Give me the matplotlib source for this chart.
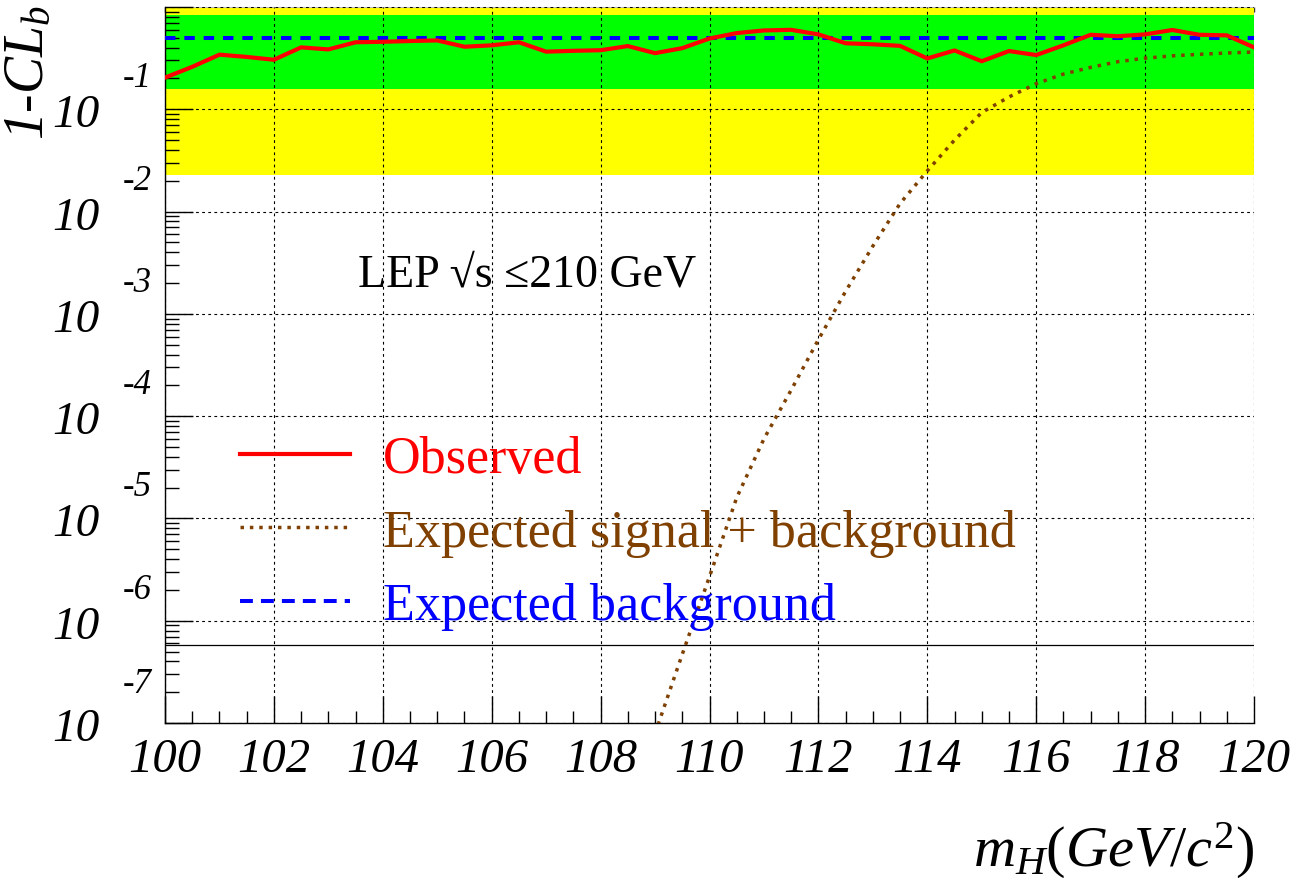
import numpy as np
import matplotlib
matplotlib.use("Agg")
import matplotlib.pyplot as plt
import matplotlib.transforms as mtransforms
from matplotlib.ticker import LogLocator, NullFormatter, MultipleLocator
from matplotlib.lines import Line2D

# ---------------- data ----------------
# Higgs mass hypotheses (GeV/c^2)
mass_obs = np.arange(100.0, 120.01, 0.5)
# observed 1-CL_b
obs_1mclb = [0.204, 0.260, 0.342, 0.325, 0.305, 0.403, 0.385, 0.452, 0.457, 0.465,
             0.471, 0.409, 0.422, 0.452, 0.366, 0.373, 0.378, 0.415, 0.354, 0.396,
             0.492, 0.556, 0.590, 0.598, 0.540, 0.442, 0.432, 0.417, 0.314, 0.376,
             0.295, 0.371, 0.339, 0.422, 0.535, 0.518, 0.540, 0.596, 0.535, 0.528,
             0.403]

# expected 1-CL_b for signal + background
mass_sb = [109.0, 109.5, 110.0, 110.5, 111.0, 111.5, 112.0, 112.5, 113.0, 113.5,
           114.0, 114.5, 115.0, 115.5, 116.0, 116.5, 117.0, 117.5, 118.0, 118.5,
           119.0, 119.5, 120.0]
exp_sb = [7.9e-8, 4.7e-7, 2.7e-6, 1.6e-5, 6.0e-5, 1.8e-4, 5.6e-4, 1.66e-3, 4.6e-3, 1.2e-2,
          2.5e-2, 5.0e-2, 9.3e-2, 0.132, 0.178, 0.221, 0.257, 0.292, 0.316, 0.333,
          0.345, 0.355, 0.363]

# expected 1-CL_b for background only
mass_b = [100.0, 120.0]
exp_b = [0.5, 0.5]

# 1 and 2 standard deviation bands around the background expectation
band1 = (0.1587, 0.8413)
band2 = (0.0228, 0.9772)
# 5 sigma discovery level
five_sigma = 5.73e-7

xtick_vals = np.arange(100, 121, 2)
ytick_exps = [-1, -2, -3, -4, -5, -6, -7]

# ---------------- styling ----------------
plt.rcParams["mathtext.fontset"] = "custom"
plt.rcParams["mathtext.it"] = "Liberation Serif:italic"
plt.rcParams["mathtext.rm"] = "Liberation Serif"
plt.rcParams["mathtext.default"] = "it"
SERIF = ["Liberation Serif", "DejaVu Serif"]

W, H = 1302, 879
fig = plt.figure(figsize=(W / 100, H / 100), dpi=100)
x0, x1, ytop, ybot = 165, 1254, 8, 724
ax = fig.add_axes([x0 / W, 1 - ybot / H, (x1 - x0) / W, (ybot - ytop) / H])

ax.set_xlim(100, 120)
ax.set_yscale("log")
ax.set_ylim(1e-7, 1)

# bands
ax.axhspan(band2[0], band2[1], color="#ffff00", lw=0, zorder=0.5)
ax.axhspan(band1[0], band1[1], color="#00ff00", lw=0, zorder=0.6)

# grid
ax.grid(True, which="major", color="black", linestyle=(0, (2.5, 3)), linewidth=0.8)

# curves
SB_STYLE = dict(color="#7f4000", lw=2.5, linestyle=(0, (1, 1.7)), dash_capstyle="butt")
B_STYLE = dict(color="#0000ff", lw=2.9, linestyle=(0, (2.6, 2.2)), dash_capstyle="butt")
OBS_STYLE = dict(color="#ff0000", lw=3.0)

ax.axhline(five_sigma, color="black", lw=0.9, zorder=2)
ax.plot(mass_sb, exp_sb, zorder=3, **SB_STYLE)
ax.plot(mass_b, exp_b, zorder=3, **B_STYLE)
ax.plot(mass_obs, obs_1mclb, zorder=4, solid_joinstyle="round", **OBS_STYLE)

# ticks
ax.set_xticks(xtick_vals)
ax.xaxis.set_minor_locator(MultipleLocator(0.5))
ax.yaxis.set_major_locator(LogLocator(base=10, numticks=20))
ax.yaxis.set_minor_locator(LogLocator(base=10, subs=np.arange(2, 10), numticks=100))
ax.yaxis.set_major_formatter(NullFormatter())
ax.yaxis.set_minor_formatter(NullFormatter())
ax.tick_params(axis="y", which="major", direction="in", length=20, width=1.0,
               left=True, right=False, color="black")
ax.tick_params(axis="y", which="minor", direction="in", length=10, width=1.0,
               left=True, right=False, color="black")
ax.tick_params(axis="x", which="major", direction="in", length=19.5, width=1.0,
               top=False, bottom=True, pad=10, labelsize=35)
ax.tick_params(axis="x", which="minor", direction="in", length=8.5, width=1.0,
               top=False, bottom=True)
for lab in ax.get_xticklabels():
    lab.set_fontfamily(SERIF)
    lab.set_fontstyle("italic")

# short ticks along the top edge
top = ax.secondary_xaxis("top")
top.set_xticks(np.arange(100, 120.01, 0.5))
top.tick_params(axis="x", direction="in", length=3.6, width=1.0, labeltop=False,
                color="#333333")
top.spines["top"].set_color("#bbbbbb")

ax.spines["right"].set_visible(False)
ax.spines["top"].set_visible(False)
ax.spines["left"].set_linewidth(1.0)
ax.spines["bottom"].set_linewidth(1.0)

# y tick labels in "10 with raised exponent" style
blend = mtransforms.blended_transform_factory(ax.transAxes, ax.transData)
for e in ytick_exps:
    val = 10.0 ** e
    t_base = mtransforms.offset_copy(blend, fig=fig, x=0, y=-17, units="dots")
    ax.text(-0.0597, val, "10", transform=t_base, ha="right", va="baseline",
            fontsize=34, fontfamily=SERIF, fontstyle="italic")
    up = 31 if e == -7 else 23
    t_exp = mtransforms.offset_copy(blend, fig=fig, x=0, y=up, units="dots")
    ax.text(-0.0386, val, "%d" % e, transform=t_exp, ha="left", va="baseline",
            fontsize=25, fontfamily=SERIF, fontstyle="italic")

# axis titles
fig.text(29 / W, 1 - 5 / H, "1-CL$_{b}$", rotation=90, ha="center", va="top",
         fontsize=40, fontfamily=SERIF, fontstyle="italic")
fig.text(x1 / W, 1 - 867 / H, r"$m_{H}(GeV/c^{2})$", ha="right", va="baseline",
         fontsize=42)

# energy label
ax.text((358 - x0) / (x1 - x0), (ybot - 287) / (ybot - ytop),
        "LEP \u221as \u2264210 GeV", transform=ax.transAxes, ha="left", va="baseline",
        fontsize=33, fontfamily=SERIF + ["DejaVu Sans"])

# legend
handles = [Line2D([], [], **OBS_STYLE),
           Line2D([], [], **SB_STYLE),
           Line2D([], [], **dict(B_STYLE, linestyle=(0, (3.2, 2.0))))]
labels = ["Observed", "Expected signal + background", "Expected background"]
leg = ax.legend(handles, labels, loc="upper left",
                bbox_to_anchor=((240 - x0) / (x1 - x0), (ybot - 436) / (ybot - ytop)),
                frameon=False, borderpad=0, borderaxespad=0, handlelength=2.12,
                handletextpad=0.63, labelspacing=0.49,
                prop={"family": SERIF, "size": 37.5},
                labelcolor=["#ff0000", "#7f4000", "#0000ff"])

fig.savefig("out.png", dpi=100)
